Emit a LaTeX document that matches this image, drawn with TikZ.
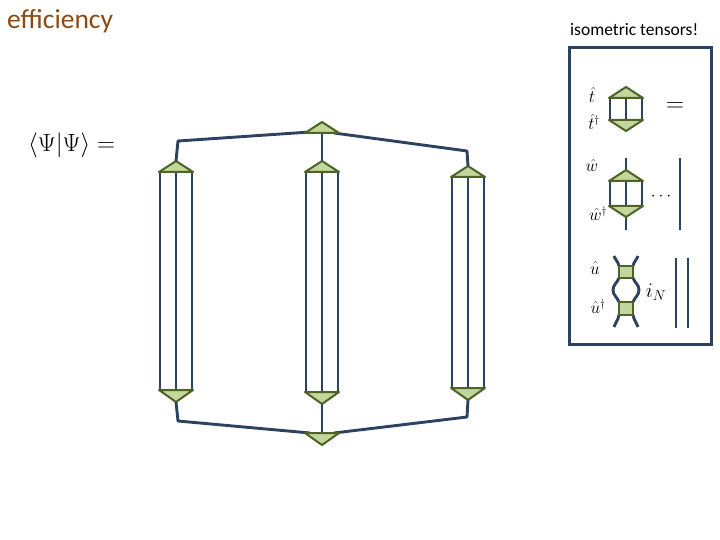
\documentclass[tikz,border=0pt]{standalone}
\usepackage{fontspec}
\setsansfont{Carlito}
\definecolor{navy}{HTML}{2B4260}
\definecolor{leaf}{HTML}{C3D69B}
\definecolor{olive}{HTML}{4F6228}
\definecolor{rust}{HTML}{8B4A12}
\tikzset{wire/.style={navy,line width=2.9pt,line join=round},
         tri/.style={fill=leaf,draw=olive,line width=2pt,line join=round},
         lbl/.style={inner sep=0pt,font=\fontsize{16}{16}\selectfont}}
\begin{document}
\begin{tikzpicture}[x=1pt,y=-1pt]
\useasboundingbox (0,0) rectangle (720,540);

\node[lbl,anchor=west,rust,font=\sffamily\fontsize{27.5}{28}\selectfont] (title) at (7,21) {efficiency};
\node[lbl,anchor=west,font=\sffamily\fontsize{17.5}{18}\selectfont] (iso) at (570,30) {isometric tensors!};
\node[lbl,anchor=west,font=\fontsize{36}{36}\selectfont] (norm) at (28,145) {$\langle\Psi|\Psi\rangle=$};

% three columns: centre x, top y, bottom y
\foreach \cn/\cx/\ct/\cb in {a/176/172/390,b/322/172/392,c/468/177/388}{
  \draw[wire] (\cx-16,\ct) rectangle (\cx+16,\cb) (\cx,\ct) -- (\cx,\cb);
  \draw[tri] (\cx-17,\ct) -- (\cx,\ct-11) -- (\cx+17,\ct) -- cycle;
  \draw[tri] (\cx-17,\cb) -- (\cx,\cb+12) -- (\cx+17,\cb) -- cycle;
  \coordinate (\cn top) at (\cx,\ct-11);
  \coordinate (\cn bot) at (\cx,\cb+12);
}

% top and bottom tensors
\coordinate (T) at (322,133);
\coordinate (B) at (322,433);
\coordinate (ta) at (178,141);
\coordinate (tc) at (467,151);
\coordinate (ba) at (178,421);
\coordinate (bc) at (467,417);
\draw[wire] (atop) -- (ta) -- (310,132);
\draw[wire] (ctop) -- (tc) -- (334,133);
\draw[wire] (btop) -- (T);
\draw[wire] (abot) -- (ba) -- (310,433);
\draw[wire] (cbot) -- (bc) -- (334,433);
\draw[wire] (bbot) -- (B);
\draw[tri] (305,133) -- (322,122) -- (339,133) -- cycle;
\draw[tri] (305,433) -- (322,445) -- (339,433) -- cycle;

% isometry box
\draw[navy,line width=3pt] (569,48) rectangle (711,344);

% t
\draw[wire] (610,98) rectangle (642,120) (626,98) -- (626,120);
\draw[tri] (609,98) -- (626,87) -- (643,98) -- cycle;
\draw[tri] (609,120) -- (626,131) -- (643,120) -- cycle;
\node[lbl] (t) at (592,95) {$\hat t$};
\node[lbl] (td) at (594,122) {$\hat t^\dagger$};
\node[lbl,font=\fontsize{26}{26}\selectfont] (eq) at (675,107) {$=$};

% w
\draw[wire] (626,158) -- (626,230);
\draw[wire] (610,181) rectangle (642,206);
\draw[tri] (609,181) -- (626,170) -- (643,181) -- cycle;
\draw[tri] (609,206) -- (626,217) -- (643,206) -- cycle;
\node[lbl] (w) at (592,166) {$\hat w$};
\node[lbl] (wd) at (598,214) {$\hat w^\dagger$};
\node[lbl] (dots) at (661,197) {$\cdots$};
\draw[wire] (680,158) -- (680,230);

% u
\draw[wire] (614,256) to[out=-70,in=100] (619,266) (619,278) to[out=-110,in=90] (613,290) to[out=-90,in=110] (619,302) (619,315) to[out=-100,in=70] (614,327);
\draw[wire] (638,256) to[out=-110,in=80] (633,266) (633,278) to[out=-70,in=90] (639,290) to[out=-90,in=70] (633,302) (633,315) to[out=-80,in=110] (638,327);
\draw[tri] (619,266) rectangle (633,278);
\draw[tri] (619,302) rectangle (633,315);
\node[lbl] (u) at (595,268) {$\hat u$};
\node[lbl] (ud) at (598,307) {$\hat u^\dagger$};
\node[lbl,font=\fontsize{21}{21}\selectfont] (iN) at (656,292) {$i_N$};
\draw[wire] (676,258) -- (676,328) (688,258) -- (688,328);
\end{tikzpicture}
\end{document}
